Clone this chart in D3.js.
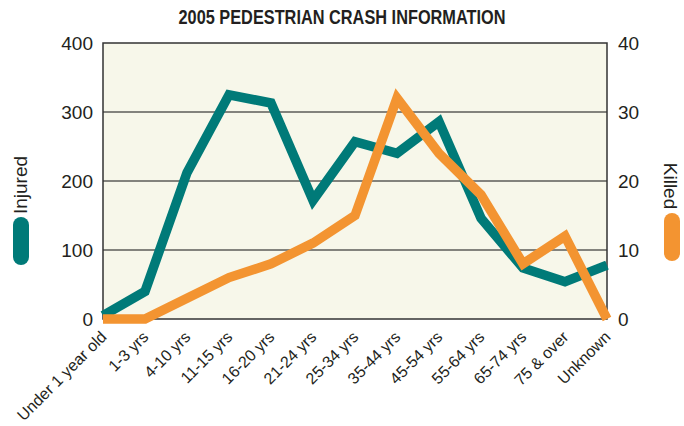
<!DOCTYPE html>
<html>
<head>
<meta charset="utf-8">
<script src="https://cdn.jsdelivr.net/npm/d3@7"></script>
<style>
  body { margin: 0; background: #fff; }
  text { font-family: "Liberation Sans", Arial, sans-serif; fill: #231f20; }
</style>
</head>
<body>
<div id="chart"></div>
<script>
var ageGroups = ["Under 1 year old", "1-3 yrs", "4-10 yrs", "11-15 yrs", "16-20 yrs", "21-24 yrs",
    "25-34 yrs", "35-44 yrs", "45-54 yrs", "55-64 yrs", "65-74 yrs", "75 & over", "Unknown"];
var injured = [5, 40, 212, 325, 313, 172, 257, 240, 286, 146, 74, 54, 78];
var killed = [0, 0, 3, 6, 8, 11, 15, 32, 24, 18, 8, 12, 0];
var injuredTicks = [0, 100, 200, 300, 400];
var killedTicks = [0, 10, 20, 30, 40];

var width = 684, height = 426;
var margin = {top: 43, right: 77, bottom: 107, left: 103};
var teal = "#007a78", orange = "#f39431";

var svg = d3.select("#chart").append("svg")
    .attr("width", width)
    .attr("height", height);

var x = d3.scalePoint().domain(ageGroups).range([margin.left, width - margin.right]);
var yL = d3.scaleLinear().domain([0, 400]).range([height - margin.bottom, margin.top]);
var yR = d3.scaleLinear().domain([0, 40]).range([height - margin.bottom, margin.top]);

// plot background
svg.append("rect")
    .attr("x", margin.left)
    .attr("y", margin.top)
    .attr("width", width - margin.left - margin.right)
    .attr("height", height - margin.top - margin.bottom)
    .attr("fill", "#f7f7ea");

// gridlines
svg.append("g").selectAll("line").data(injuredTicks.slice(1, -1)).enter().append("line")
    .attr("x1", margin.left)
    .attr("x2", width - margin.right)
    .attr("y1", function(d){ return yL(d); })
    .attr("y2", function(d){ return yL(d); })
    .attr("stroke", "#111")
    .attr("stroke-width", 1.2);

// frame
svg.append("rect")
    .attr("x", margin.left)
    .attr("y", margin.top)
    .attr("width", width - margin.left - margin.right)
    .attr("height", height - margin.top - margin.bottom)
    .attr("fill", "none")
    .attr("stroke", "#333")
    .attr("stroke-width", 1.5);

// axes
var leftAxis = svg.append("g")
    .attr("transform", "translate(" + margin.left + ",0)")
    .call(d3.axisLeft(yL).tickValues(injuredTicks).tickSize(0).tickPadding(10));
var rightAxis = svg.append("g")
    .attr("transform", "translate(" + (width - margin.right) + ",0)")
    .call(d3.axisRight(yR).tickValues(killedTicks).tickSize(0).tickPadding(11));
[leftAxis, rightAxis].forEach(function(a){
    a.select(".domain").remove();
    a.selectAll("text").attr("font-size", 19).attr("font-family", null).attr("fill", "#231f20");
});

var bottomAxis = svg.append("g")
    .attr("transform", "translate(0," + (height - margin.bottom) + ")")
    .call(d3.axisBottom(x).tickSize(0).tickPadding(0));
bottomAxis.select(".domain").remove();
bottomAxis.selectAll("text")
    .attr("font-size", 16)
    .attr("font-family", null)
    .attr("fill", "#231f20")
    .attr("text-anchor", "end")
    .attr("dy", null)
    .attr("y", 0)
    .attr("transform", "translate(4,19) rotate(-45)");

// lines
var lineL = d3.line().x(function(d, i){ return x(ageGroups[i]); }).y(function(d){ return yL(d); });
var lineR = d3.line().x(function(d, i){ return x(ageGroups[i]); }).y(function(d){ return yR(d); });

svg.append("path")
    .datum(injured)
    .attr("d", lineL)
    .attr("fill", "none")
    .attr("stroke", teal)
    .attr("stroke-width", 9.5)
    .attr("stroke-linejoin", "miter")
    .attr("stroke-miterlimit", 10);

svg.append("path")
    .datum(killed)
    .attr("d", lineR)
    .attr("fill", "none")
    .attr("stroke", orange)
    .attr("stroke-width", 9.5)
    .attr("stroke-linejoin", "miter")
    .attr("stroke-miterlimit", 10);

// title
svg.append("text")
    .attr("x", 342)
    .attr("y", 24)
    .attr("text-anchor", "middle")
    .attr("font-size", 20)
    .attr("font-weight", "bold")
    .attr("textLength", 327)
    .attr("lengthAdjust", "spacingAndGlyphs")
    .text("2005 PEDESTRIAN CRASH INFORMATION");

// legends
svg.append("text")
    .attr("transform", "translate(27,185) rotate(-90)")
    .attr("text-anchor", "middle")
    .attr("font-size", 19)
    .text("Injured");
svg.append("rect")
    .attr("x", 13).attr("y", 217).attr("width", 16).attr("height", 48)
    .attr("rx", 8).attr("fill", teal);

svg.append("text")
    .attr("transform", "translate(664,186) rotate(90)")
    .attr("text-anchor", "middle")
    .attr("font-size", 19)
    .text("Killed");
svg.append("rect")
    .attr("x", 664).attr("y", 213).attr("width", 16).attr("height", 48)
    .attr("rx", 8).attr("fill", orange);
</script>
</body>
</html>
